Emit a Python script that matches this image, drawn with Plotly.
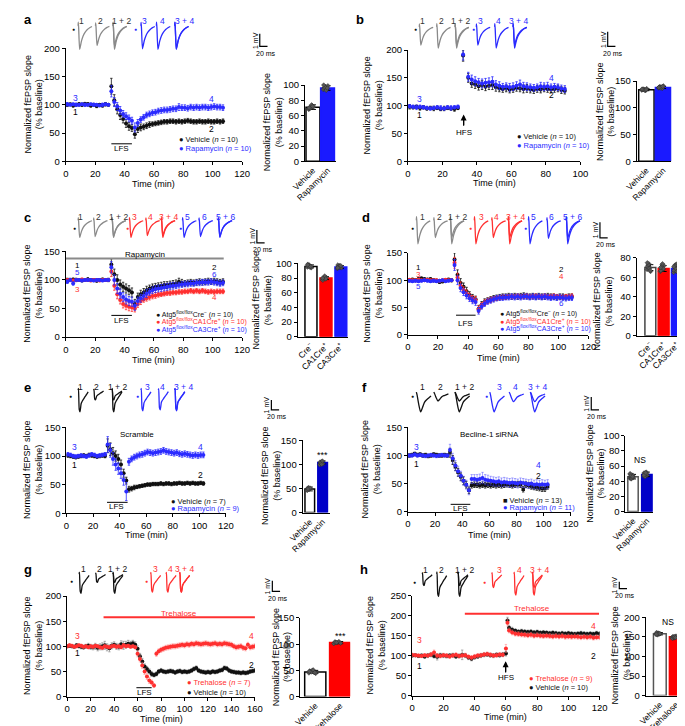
import plotly.graph_objects as go

W, H = 685, 726
FONT = "Liberation Sans, Arial, Helvetica, sans-serif"
BLACK = "#111111"; GRAY = "#8a8a8a"; DGRAY = "#333333"
BLUE = "#2b2bff"; RED = "#ff3030"; BARBLUE = "#1a1aff"; DBLUE = "#0000c8"; BARRED = "#ff0000"

# ---------------- time-course data ----------------
T_BASE = list(range(1, 30, 2))            # 1..29 min
T_POST39 = list(range(31, 108, 2))        # 31..107
T_POST40 = list(range(31, 110, 2))        # 31..109
T_POST37 = list(range(31, 104, 2))        # 31..103

# a
A_T = T_BASE + T_POST39
A_VEH = [100,101,99,100,101,100,102,101,99,100,98,100,99,101,100,
         133,108,92,82,75,67,62,59,48,57,60,61,63,65,66,67,68,69,70,70,71,71,70,71,70,71,72,71,70,70,71,70,70,71,70,70,71,70,71]
A_VEH_E = [3,2,3,2,3,3,2,3,3,2,3,2,3,3,2,
           14,10,8,8,7,7,7,6,7,6,6,5,5,5,4,4,4,4,4,4,4,4,4,4,4,4,4,4,4,4,4,4,4,4,4,4,4,4,4]
A_RAP = [101,100,101,100,100,101,100,100,101,100,100,99,100,101,100,
         124,105,97,90,84,80,76,72,60,68,74,78,82,84,86,87,89,90,91,91,92,93,93,96,95,95,94,96,95,96,95,96,96,95,96,97,96,96,95]
A_RAP_E = [3,2,2,3,2,2,3,2,2,3,2,2,3,2,2,
           10,8,7,7,6,6,6,6,8,6,5,5,5,5,5,5,5,5,5,5,5,5,5,6,5,5,5,5,5,5,5,5,5,5,5,5,5,5,5]

# b
B_T = T_BASE + [32] + list(range(35, 92, 2))
B_VEH = [98,97,98,96,97,95,96,95,96,94,95,96,95,94,96, 190,
         150,140,138,135,137,134,136,137,133,131,130,131,129,130,132,131,130,131,129,128,130,129,131,130,129,130,131,128,127]
B_VEH_E = [4,3,3,4,3,3,3,4,3,3,4,3,3,4,3, 10,
           8,7,7,7,8,7,7,8,7,6,6,6,6,6,6,6,7,7,6,6,6,6,6,6,6,6,6,6,6]
B_RAP = [99,98,97,98,97,96,95,96,97,96,95,97,96,97,98, 192,
         152,147,144,142,140,141,142,143,138,136,134,135,133,134,136,138,135,134,133,132,133,135,134,135,133,134,133,131,130]
B_RAP_E = [3,3,4,3,3,3,3,3,3,4,3,3,4,3,3, 10,
           8,8,8,7,8,8,8,9,7,7,6,6,7,7,7,8,7,7,6,6,6,7,7,7,6,6,6,6,6]

# c
C_T = T_BASE + T_POST39
C_CRE = [100,100,101,100,100,99,100,101,100,100,99,100,101,100,100,
         127,110,100,92,88,85,82,78,58,70,75,78,82,85,87,88,89,90,91,91,92,93,94,97,95,94,95,96,95,96,97,96,97,98,97,98,97,96,97]
C_CRE_E = [3,2,2,3,2,2,2,3,2,2,3,2,2,2,3,
           10,9,9,8,8,8,8,8,8,7,7,7,7,6,6,6,6,6,6,6,6,6,6,6,6,5,5,5,5,5,5,5,5,5,5,5,5,5,5]
C_CA1 = [100,100,99,100,100,101,100,100,99,100,100,99,100,100,100,
         115,90,75,65,58,55,53,52,50,58,63,66,68,70,72,73,74,75,76,77,77,78,78,79,79,80,80,81,80,81,80,81,80,79,80,79,80,80,80]
C_CA1_E = [2,2,2,2,2,2,2,2,2,2,2,2,2,2,2,
           9,8,8,7,7,7,7,7,6,6,6,5,5,5,5,5,4,4,4,4,4,4,4,4,4,4,4,4,4,4,4,4,4,4,4,4,4,4,4]
C_CA3 = [97,100,94,100,100,99,100,100,100,99,100,100,99,100,100,
         122,100,85,76,70,66,63,62,55,63,68,72,76,79,82,84,85,86,87,88,89,90,90,91,92,93,93,94,94,95,95,96,96,96,97,96,95,94,95]
C_CA3_E = [3,3,3,2,2,2,2,2,2,2,2,2,2,2,2,
           10,9,9,8,8,8,8,8,8,7,7,7,7,6,6,6,6,6,6,6,6,6,5,5,5,5,5,5,5,5,5,5,5,5,5,5,5,5,5]

# d
D_T = T_BASE + T_POST40
D_CRE = [100,101,100,102,103,102,101,102,100,99,97,98,100,101,100,
         138,110,95,88,80,73,68,65,48,55,60,63,65,67,68,69,70,70,71,70,71,70,71,72,71,70,71,70,71,70,70,71,70,70,69,70,70,69,70,70]
D_CRE_E = [3,3,3,3,3,3,3,3,3,3,3,3,3,3,3,
           12,9,8,7,7,6,6,6,6,6,6,5,5,5,5,5,5,5,5,5,5,5,5,5,5,5,5,5,5,5,5,5,5,5,5,5,5,5,5,5]
D_CA1 = [101,100,100,101,100,100,101,100,100,100,99,100,101,100,100,
         132,105,90,82,76,70,66,64,47,54,59,62,64,66,67,68,69,69,70,70,70,71,70,70,71,70,70,71,70,70,71,70,70,71,70,70,69,70,70,71]
D_CA1_E = [2,2,2,2,2,2,2,2,2,2,2,2,2,2,2,
           10,8,7,6,6,6,6,6,6,5,5,5,5,4,4,4,4,4,4,4,4,4,4,4,4,4,4,4,4,4,4,4,4,4,4,4,4,4,4,4]
D_CA3 = [99,98,99,98,99,100,99,98,99,98,99,100,98,99,100,
         128,100,86,78,72,67,63,60,44,52,57,61,63,65,67,68,68,69,69,70,69,70,69,70,70,69,70,69,70,69,70,69,68,69,68,69,68,67,68,68]
D_CA3_E = [2,2,2,2,2,2,2,2,2,2,2,2,2,2,2,
           10,8,7,6,6,6,6,6,6,5,5,5,5,5,5,5,5,5,5,5,5,5,5,5,5,5,5,5,5,5,5,5,5,5,5,5,5,5,5,5]

# e
E_T = T_BASE + T_POST37
E_VEH = [101,100,99,98,99,100,101,100,102,101,100,99,100,101,100,
         118,112,105,100,95,85,70,57,42,43,45,46,47,48,49,50,50,51,51,51,52,51,52,52,51,52,52,53,52,52,53,52,53,52,52,53,52]
E_VEH_E = [3,3,3,3,3,3,3,3,3,3,3,3,3,3,3,
           12,11,10,9,8,8,7,6,5,4,4,3,3,3,3,3,3,3,3,3,3,3,3,3,3,3,3,3,3,3,3,3,3,3,3,3,3]
E_RAP = [103,102,100,99,100,101,100,99,101,103,102,100,101,102,103,
         120,110,95,85,78,70,58,38,90,95,98,100,102,103,105,107,106,105,106,107,108,110,108,107,106,105,106,104,103,104,103,102,101,102,101,102,102]
E_RAP_E = [3,3,3,3,3,3,3,3,3,3,3,3,3,3,3,
           14,12,11,10,10,9,9,16,6,5,5,5,5,5,5,5,5,5,5,5,5,5,5,5,5,5,5,5,5,5,5,5,5,5,5,5,5]

# f
F_T = T_BASE + T_POST37
F_VEH = [100,101,103,101,102,100,101,99,100,102,101,100,100,101,100,
         105,92,80,70,62,55,48,38,47,48,48,47,48,47,48,47,48,47,48,47,48,49,48,47,48,49,48,40,48,47,45,44,43,42,41,41,45]
F_VEH_E = [3,3,3,3,3,3,3,3,3,3,3,3,3,3,3,
           8,8,7,7,7,7,6,6,5,5,5,5,5,5,5,5,5,5,5,5,5,5,5,5,5,5,5,5,5,5,5,5,5,5,5,5,5]
F_RAP = [100,100,102,100,101,100,99,100,101,100,99,100,101,100,100,
         110,95,82,72,64,55,48,38,58,58,57,58,60,57,56,55,54,53,54,52,53,52,51,52,51,50,52,51,50,49,50,48,49,48,49,48,49]
F_RAP_E = [3,3,3,3,3,3,3,3,3,3,3,3,3,3,3,
           10,9,9,9,8,8,8,8,8,8,9,9,10,9,9,8,8,8,8,8,8,8,8,8,8,8,8,8,8,8,8,8,8,8,8,8,8]

# g
G_T = list(range(0, 161, 2))
G_VEH = [100,101,100,99,102,100,99,98,100,101,99,98,100,97,99,100,102,98,96,101,103,100,99,104,102,103,105,104,106,103,
         95,80,70,60,55,50,45,43,45,50,52,50,49,50,51,50,48,50,51,49,50,49,50,52,55,57,52,50,49,48,
         49,48,50,49,50,52,53,57,56,52,50,49,48,48,47,48,47,48,50,51,52]
G_VEH_E = [3,3,3,3,3,3,4,4,4,5,5,5,6,6,6,7,8,7,7,6,6,6,6,7,8,7,7,6,6,6,
           6,6,6,5,5,5,5,4,4,4,4,4,4,4,4,4,4,4,4,4,4,4,4,4,4,4,4,4,4,4,
           4,4,4,4,4,4,4,4,4,4,4,4,4,4,4,4,4,4,4,4,4]
G_TRE = [100,102,101,99,100,102,101,99,100,98,100,99,101,100,98,97,100,99,98,100,101,99,100,98,102,100,101,99,100,98,
         85,75,62,50,40,32,28,22,85,90,93,95,97,98,99,100,100,101,102,103,102,104,103,105,104,106,105,104,105,106,
         105,104,105,106,104,105,104,106,105,104,103,100,98,99,100,97,96,103,98,99,100]
G_TRE_E = [3,3,3,3,3,3,3,3,3,3,3,3,3,3,3,3,3,3,3,3,3,3,3,3,3,3,3,3,3,3,
           6,6,6,6,6,6,5,4,5,5,5,5,5,5,5,5,5,5,5,5,5,5,5,5,5,5,5,5,5,5,
           5,5,5,5,5,5,5,5,5,5,5,5,5,5,5,5,5,5,5,5,5]

# h
H_T = list(range(0, 59, 2)) + [60, 61] + list(range(62, 121, 2))
H_VEH = [100,101,99,100,98,100,102,99,97,101,100,99,100,101,98,99,102,100,95,92,96,98,100,102,103,101,100,102,101,103,
         105,188,
         170,165,162,160,161,160,159,160,158,159,157,158,157,156,157,156,155,156,155,156,155,154,155,156,155,154,155,154,156,155]
H_VEH_E = [4,4,4,4,5,5,5,5,8,5,5,5,5,5,5,5,12,5,5,5,5,5,5,5,5,5,5,5,5,5,
           6,8,
           6,6,5,5,5,5,5,5,5,5,5,5,5,5,5,5,5,5,5,5,5,5,5,5,5,5,5,5,5,5]
H_TRE = [102,101,100,99,101,100,103,108,100,99,101,100,98,100,102,99,100,101,97,95,98,100,101,103,104,102,100,101,103,102,
         118,182,
         163,158,155,154,153,152,151,152,150,151,150,149,150,149,148,149,148,149,147,148,147,148,147,146,147,146,147,145,146,146]
H_TRE_E = [4,4,4,4,4,4,5,6,5,5,5,5,5,5,5,5,5,5,5,5,5,5,5,5,5,5,5,5,5,5,
           10,8,
           6,6,6,6,6,6,6,6,6,6,6,6,6,6,6,6,6,6,6,6,6,6,6,6,6,6,6,6,6,6]

# ---------------- bar data ----------------
BAR_A = dict(labels=["Vehicle", "Rapamycin"], means=[71, 96], sems=[3, 3],
             pts=[[68,70,72,73,71,69,70,74,72,70], [94,97,98,95,99,96,97,93,96,100]])
BAR_B = dict(labels=["Vehicle", "Rapamycin"], means=[134, 138], sems=[2, 2],
             pts=[[133,135,134,132,136,134,135,133,134,135], [137,140,139,136,141,138,137,139,140,138]])
BAR_C = dict(labels=["Cre<sup>−</sup>", "CA1Cre<sup>+</sup>", "CA3Cre<sup>+</sup>"], means=[96, 80, 95], sems=[2, 2, 2],
             pts=[[95,97,98,96,94,99,97,95,96,98], [78,80,82,79,81,77,80,83,79,80], [93,96,97,95,94,98,96,95,97,94]])
BAR_D = dict(labels=["Cre<sup>−</sup>", "CA1Cre<sup>+</sup>", "CA3Cre<sup>+</sup>"], means=[70, 69, 69], sems=[3, 3, 4],
             pts=[[68,72,74,70,66,71,73,69,67,75], [66,70,73,68,72,67,71,74,69,70], [65,70,73,68,74,67,72,69,66,71]])
BAR_E = dict(labels=["Vehicle", "Rapamycin"], means=[49, 104], sems=[4, 3],
             pts=[[47,50,52,48,51,46,49], [99,102,104,106,101,105,103,100,107]])
BAR_F = dict(labels=["Vehicle", "Rapamycin"], means=[46, 49], sems=[3, 3],
             pts=[[44,46,48,47,45,49,43,46,48,50,44,47,46], [47,50,49,52,48,51,46,49,50,48,51]])
BAR_G = dict(labels=["Vehicle", "Trehalose"], means=[47, 103], sems=[3, 2],
             pts=[[45,48,50,46,44,49,47,51,46,48], [101,104,103,105,102,104,103]])
BAR_H = dict(labels=["Vehicle", "Trehalose"], means=[158, 150], sems=[3, 4],
             pts=[[156,159,160,157,158,161,155,159,158,157], [148,151,147,150,152,146,149,150,148]])
JITTER = [-0.3, -0.22, -0.14, -0.06, 0.02, -0.26, -0.18, -0.1, -0.02, -0.28, -0.12, -0.2, -0.04]

# ---------------- example trace waveforms (ms, relative amplitude) ----------------
TPL = {
    "A": ([0, 0.5, 1.5, 4, 6, 9, 13, 18, 24, 30, 36], [0, 0.15, -0.1, -1.0, -0.86, -0.63, -0.43, -0.28, -0.16, -0.08, -0.03]),
    "E": ([0, 1, 3, 5, 8, 11, 14, 18, 22, 26], [0, 0.08, -0.9, -1.0, -0.62, -0.5, -0.42, -0.3, -0.2, -0.08]),
    "F": ([0, 2, 6, 11, 16, 21, 26, 32, 38], [0, -0.15, -0.6, -1.0, -0.78, -0.52, -0.4, -0.3, -0.2]),
}
PX_PER_MS = 0.4

fig = go.Figure()
layout = {}
annotations = []
shapes = []
counter = [0]

AX = dict(showline=True, linecolor="black", linewidth=1, ticks="outside", ticklen=3, tickwidth=1,
          tickcolor="black", showgrid=False, zeroline=False, fixedrange=True,
          tickfont=dict(family=FONT, size=9.5, color="black"))


def new_axes(x0, x1, y0, y1, xr, yr, xkw=None, ykw=None, visible=True):
    counter[0] += 1
    n = counter[0]
    s = "" if n == 1 else str(n)
    base = AX if visible else dict(visible=False, fixedrange=True, showgrid=False, zeroline=False)
    xa = dict(base, domain=[x0 / W, x1 / W], range=xr, anchor="y" + s)
    ya = dict(base, domain=[1 - y1 / H, 1 - y0 / H], range=yr, anchor="x" + s)
    if xkw: xa.update(xkw)
    if ykw: ya.update(ykw)
    layout["xaxis" + s] = xa
    layout["yaxis" + s] = ya
    return "x" + s, "y" + s


def ann_px(text, x, y, size=8.5, color="black", angle=0, xanchor="center", bold=False):
    annotations.append(dict(text=("<b>%s</b>" % text) if bold else text, x=x / W, y=1 - y / H,
                            xref="paper", yref="paper", showarrow=False, textangle=angle,
                            xanchor=xanchor, yanchor="middle",
                            font=dict(family=FONT, size=size, color=color)))


def ann_data(text, xa, ya, x, y, size=8, color="black"):
    annotations.append(dict(text=text, x=x, y=y, xref=xa, yref=ya, showarrow=False,
                            xanchor="center", yanchor="middle",
                            font=dict(family=FONT, size=size, color=color)))


def series(xa, ya, t, v, e, color, ecolor=None, symbol="circle", size=4):
    fig.add_trace(go.Scatter(x=t, y=v, mode="markers", xaxis=xa, yaxis=ya, showlegend=False,
                             marker=dict(color=color, size=size, symbol=symbol),
                             error_y=dict(type="data", array=e, color=ecolor or color, thickness=0.8, width=1.2)))


def line_panel(box, xr, yr, dxt, dyt, title_x, xtitle_y):
    x0, x1, y0, y1 = box
    xa, ya = new_axes(x0, x1, y0, y1, xr, yr, xkw=dict(dtick=dxt, tick0=0), ykw=dict(dtick=dyt, tick0=0))
    ann_px("Normalized fEPSP slope<br>(% baseline)", title_x, (y0 + y1) / 2, size=9, angle=-90)
    ann_px("Time (min)", (x0 + x1) / 2, xtitle_y, size=9)
    return xa, ya


def bar_panel(box, xr, bw, yr, dyt, data, fills, outlines, title_x, title_y):
    x0, x1, y0, y1 = box
    n = len(data["means"])
    xa, ya = new_axes(x0, x1, y0, y1, xr, yr,
                      xkw=dict(tickvals=list(range(n)), ticktext=data["labels"], tickangle=-45, ticks="",
                               tickfont=dict(family=FONT, size=8.5, color="black")),
                      ykw=dict(dtick=dyt, tick0=0))
    fig.add_trace(go.Bar(x=list(range(n)), y=data["means"], width=bw, xaxis=xa, yaxis=ya, showlegend=False,
                         marker=dict(color=fills, line=dict(color=outlines, width=1.5)),
                         error_y=dict(type="data", array=data["sems"], color="black", thickness=1, width=3)))
    for i, pts in enumerate(data["pts"]):
        fig.add_trace(go.Scatter(x=[i + j * bw for j in JITTER[:len(pts)]], y=pts, mode="markers", xaxis=xa, yaxis=ya,
                                 showlegend=False, cliponaxis=False,
                                 marker=dict(symbol="diamond", size=3.5, color="#555555",
                                             line=dict(width=0.4, color="#222222"))))
    ann_px("Normalized fEPSP slope<br>(% baseline)", title_x, title_y, size=9, angle=-90)
    return xa, ya


def insets(x0, x1, base_y, pxmv, tpl, starts, slots, labels, label_y, dots, sb):
    xa, ya = new_axes(x0, x1, base_y - 8, base_y + 42, [x0 / PX_PER_MS, x1 / PX_PER_MS],
                      [-42 / pxmv, 8 / pxmv], visible=False)
    tt, tv = TPL[tpl]
    for s, slot in zip(starts, slots):
        for amp, col in slot:
            fig.add_trace(go.Scatter(x=[s / PX_PER_MS + t for t in tt], y=[amp * v for v in tv], mode="lines",
                                     line=dict(color=col, width=1.3, shape="spline", smoothing=0.6),
                                     xaxis=xa, yaxis=ya, showlegend=False))
    # scale bar 1 mV / 20 ms
    sbx, sby = sb
    top = -(sby - base_y) / pxmv
    fig.add_trace(go.Scatter(x=[sbx / PX_PER_MS, sbx / PX_PER_MS, sbx / PX_PER_MS + 20],
                             y=[top, top - 1, top - 1], mode="lines", line=dict(color="black", width=1.2),
                             xaxis=xa, yaxis=ya, showlegend=False))
    ann_px("1 mV", sbx - 5, sby + pxmv / 2, size=7, angle=-90)
    ann_px("20 ms", sbx + 6, sby + pxmv + 7, size=7)
    for text, x, col in labels:
        ann_px(text, x, label_y, size=8.5, color=col)
    for x, y, col in dots:
        ann_px("●", x, y, size=5, color=col)


def legend(items, x, ys, size=7.5):
    for (text, col, sym), y in zip(items, ys):
        ann_px("%s %s" % (sym, text), x, y, size=size, color=col, xanchor="left")


def hline(xa, ya, xs, y, color="black", width=1):
    shapes.append(dict(type="line", xref=xa, yref=ya, x0=xs[0], x1=xs[1], y0=y, y1=y,
                       line=dict(color=color, width=width)))


def arrow(xa, ya, x, y_tip, y_tail):
    # shaft + head drawn in data coordinates
    shapes.append(dict(type="line", xref=xa, yref=ya, x0=x, x1=x, y0=y_tail, y1=y_tip - 4,
                       line=dict(color="black", width=1.2)))
    annotations.append(dict(x=x, y=y_tip, ax=0, ay=12, xref=xa, yref=ya, text="",
                            showarrow=True, arrowhead=2, arrowsize=1, arrowwidth=1.2, arrowcolor="black"))


# ================= panel a =================
xa, ya = line_panel((44.3, 226.7, 35, 150), [0, 120], [0, 200], 20, 50, 11, 173)
series(xa, ya, A_T, A_VEH, A_VEH_E, BLACK)
series(xa, ya, A_T, A_RAP, A_RAP_E, BLUE)
hline(xa, ya, [31, 45], 31)
ann_data("LFS", xa, ya, 38, 22)
ann_data("3", xa, ya, 6.5, 112, 8.5, BLUE); ann_data("1", xa, ya, 6.5, 88, 8.5)
ann_data("4", xa, ya, 99, 110, 8.5, BLUE); ann_data("2", xa, ya, 99, 57, 8.5)
legend([("Vehicle (<i>n</i> = 10)", BLACK, "●"), ("Rapamycin (<i>n</i> = 10)", BLUE, "●")], 159, [128, 137])
xa, ya = bar_panel((291.7, 323.5, 72.3, 150), [-0.55, 1.55], 0.95, [0, 100], 20, BAR_A,
                   ["white", BARBLUE], ["black", BARBLUE], 259, 110)
ann_data("***", xa, ya, 1, 106, 9)
insets(0, 342, 12, 13, "A", [57, 75, 93, 122, 138, 157],
       [[(1.85, GRAY)], [(1.55, GRAY)], [(1.85, GRAY), (1.55, GRAY)], [(1.8, BLUE)], [(1.85, BLUE)], [(1.8, BLUE), (1.85, BLUE)]],
       [("1", 61, DGRAY), ("2", 80, DGRAY), ("1 + 2", 102, DGRAY), ("3", 126, BLUE), ("4", 144, BLUE), ("3 + 4", 167, BLUE)],
       7, [(52, 15, BLACK), (116, 15, BLUE)], (245, 20))
ann_px("a", 5, 6, size=13, bold=True)

# ================= panel b =================
xa, ya = line_panel((398.3, 576.7, 36.7, 150), [0, 100], [0, 200], 20, 50, 362, 172)
series(xa, ya, B_T, B_VEH, B_VEH_E, BLACK)
series(xa, ya, B_T, B_RAP, B_RAP_E, BLUE)
arrow(xa, ya, 32.3, 84, 64)
ann_data("HFS", xa, ya, 32.3, 52)
ann_data("3", xa, ya, 7, 112, 8.5, BLUE); ann_data("1", xa, ya, 7, 84, 8.5)
ann_data("4", xa, ya, 83.5, 150, 8.5, BLUE); ann_data("2", xa, ya, 83.5, 119, 8.5)
legend([("Vehicle (<i>n</i> = 10)", BLACK, "●"), ("Rapamycin (<i>n</i> = 10)", BLUE, "●")], 509, [124.5, 133.5])
xa, ya = bar_panel((635, 671, 68.3, 150), [-0.58, 1.5], 0.92, [0, 150], 50, BAR_B,
                   ["white", BARBLUE], ["black", BARBLUE], 603, 100)
ann_data("NS", xa, ya, 0.5, 163, 8.5)
insets(342, 685, 13, 15, "A", [410, 428, 447, 469, 488, 507],
       [[(1.25, GRAY)], [(1.45, GRAY)], [(1.25, GRAY), (1.45, GRAY)], [(1.25, BLUE)], [(1.45, BLUE)], [(1.25, BLUE), (1.45, BLUE)]],
       [("1", 413, DGRAY), ("2", 433, DGRAY), ("1 + 2", 453, DGRAY), ("3", 473, BLUE), ("4", 492, BLUE), ("3 + 4", 513, BLUE)],
       7, [(406, 15, BLACK), (466, 15, BLUE)], (605, 18))
ann_px("b", 349, 6, size=13, bold=True)

# ================= panel c =================
xa, ya = line_panel((44.3, 226.7, 241.7, 329), [0, 120], [0, 150], 20, 50, 11, 352)
series(xa, ya, C_T, C_CRE, C_CRE_E, BLACK)
series(xa, ya, C_T, C_CA1, C_CA1_E, RED)
series(xa, ya, C_T, C_CA3, C_CA3_E, BLUE)
hline(xa, ya, [0, 107.5], 137.5, GRAY, 2)
ann_data("Rapamycin", xa, ya, 54, 145)
hline(xa, ya, [31, 45], 38)
ann_data("LFS", xa, ya, 38, 29)
ann_data("1", xa, ya, 8, 125); ann_data("5", xa, ya, 8, 113, 8, BLUE); ann_data("3", xa, ya, 8, 83, 8, RED)
ann_data("2", xa, ya, 101, 122); ann_data("6", xa, ya, 101, 110, 8, BLUE); ann_data("4", xa, ya, 101, 70, 8, RED)
legend([("Atg5<sup>flox/flox</sup>Cre<sup>−</sup> (<i>n</i> = 10)", BLACK, "●"),
        ("Atg5<sup>flox/flox</sup>CA1Cre<sup>+</sup> (<i>n</i> = 10)", RED, "●"),
        ("Atg5<sup>flox/flox</sup>CA3Cre<sup>+</sup> (<i>n</i> = 10)", BLUE, "●")], 136, [306, 313.5, 321], 7)
xa, ya = bar_panel((284.3, 336, 254, 328.7), [-0.88, 2.45], 0.8, [0, 100], 20, BAR_C,
                   ["white", BARRED, BARBLUE], ["black", BARRED, BARBLUE], 247, 292)
for a, b in [(0, 1), (1, 2)]:
    shapes.append(dict(type="path", xref=xa, yref=ya, path="M %s,105 L %s,109 L %s,109 L %s,105" % (a, a, b, b),
                       line=dict(color="black", width=1)))
    ann_data("***", xa, ya, (a + b) / 2, 113, 8.5)
insets(0, 342, 210, 13, "A", [57, 73, 92, 110, 127, 143, 165, 182, 202],
       [[(1.35, GRAY)], [(1.28, GRAY)], [(1.35, GRAY), (1.28, GRAY)],
        [(1.35, RED)], [(1.2, RED)], [(1.35, RED), (1.2, RED)],
        [(1.35, BLUE)], [(1.28, BLUE)], [(1.35, BLUE), (1.28, BLUE)]],
       [("1", 60, DGRAY), ("2", 78, DGRAY), ("1 + 2", 99, DGRAY), ("3", 115, RED), ("4", 132, RED), ("3 + 4", 151, RED),
        ("5", 170, BLUE), ("6", 188, BLUE), ("5 + 6", 210, BLUE)],
       207, [(53, 218, BLACK), (108, 218, RED), (163, 218, BLUE)], (242, 220))
ann_px("c", 5, 207, size=13, bold=True)

# ================= panel d =================
xa, ya = line_panel((398.3, 585, 243.3, 326.7), [0, 120], [0, 150], 20, 50, 362, 350)
series(xa, ya, D_T, D_CRE, D_CRE_E, BLACK)
series(xa, ya, D_T, D_CA1, D_CA1_E, RED)
series(xa, ya, D_T, D_CA3, D_CA3_E, BLUE)
hline(xa, ya, [32, 45], 36)
ann_data("LFS", xa, ya, 38.5, 21)
ann_data("1", xa, ya, 7, 124); ann_data("3", xa, ya, 7, 111, 8, RED); ann_data("5", xa, ya, 7, 88, 8, BLUE)
ann_data("2", xa, ya, 102, 120); ann_data("4", xa, ya, 102, 106, 8, RED); ann_data("6", xa, ya, 102, 58, 8, BLUE)
legend([("Atg5<sup>flox/flox</sup>Cre<sup>−</sup> (<i>n</i> = 10)", BLACK, "●"),
        ("Atg5<sup>flox/flox</sup>CA1Cre<sup>+</sup> (<i>n</i> = 10)", RED, "●"),
        ("Atg5<sup>flox/flox</sup>CA3Cre<sup>+</sup> (<i>n</i> = 10)", BLUE, "●")], 492, [305, 312.7, 320], 7)
xa, ya = bar_panel((635, 683.5, 248.3, 327.7), [-1.03, 2.5], 0.82, [0, 80], 20, BAR_D,
                   ["white", BARRED, BARBLUE], ["#444444", BARRED, BARBLUE], 600, 293)
ann_data("NS", xa, ya, 1, 87, 8.5)
insets(342, 685, 210, 16, "A", [407, 425, 442, 467, 485, 502, 523, 542, 562],
       [[(1.5, GRAY)], [(1.1, GRAY)], [(1.5, GRAY), (1.1, GRAY)],
        [(1.5, RED)], [(1.1, RED)], [(1.5, RED), (1.1, RED)],
        [(1.5, BLUE)], [(1.15, BLUE)], [(1.5, BLUE), (1.15, BLUE)]],
       [("1", 413, DGRAY), ("2", 431, DGRAY), ("1 + 2", 450, DGRAY), ("3", 474, RED), ("4", 490, RED), ("3 + 4", 510, RED),
        ("5", 528, BLUE), ("6", 547, BLUE), ("5 + 6", 569, BLUE)],
       207, [(403, 218, BLACK), (463, 218, RED), (520, 218, BLUE)], (597, 212))
ann_px("d", 355, 207, size=13, bold=True)

# ================= panel e =================
xa, ya = line_panel((45, 210, 421, 508.3), [0, 120], [0, 150], 20, 50, 11, 530)
series(xa, ya, E_T, E_VEH, E_VEH_E, BLACK)
series(xa, ya, E_T, E_RAP, E_RAP_E, BLUE)
hline(xa, ya, [30.5, 46], 19)
ann_data("LFS", xa, ya, 38, 11)
ann_data("Scramble", xa, ya, 53, 138)
ann_data("3", xa, ya, 6, 116, 8.5, BLUE); ann_data("1", xa, ya, 6, 85, 8.5)
ann_data("4", xa, ya, 100.5, 116, 8.5, BLUE); ann_data("2", xa, ya, 100.5, 66, 8.5)
legend([("Vehicle (<i>n</i> = 7)", BLACK, "●"), ("Rapamycin (<i>n</i> = 9)", BLUE, "●")], 151, [496, 504])
xa, ya = bar_panel((289.3, 318, 434, 507.7), [-0.56, 1.6], 0.75, [0, 150], 50, BAR_E,
                   ["white", DBLUE], ["black", DBLUE], 256, 470)
ann_data("***", xa, ya, 1, 120, 9)
insets(0, 342, 383, 10, "E", [57, 73, 92, 122, 140, 157],
       [[(2.2, BLACK)], [(1.0, BLACK)], [(2.2, BLACK), (1.0, BLACK)], [(2.1, BLUE)], [(2.0, BLUE)], [(2.1, BLUE), (2.0, BLUE)]],
       [("1", 60, BLACK), ("2", 76, BLACK), ("1 + 2", 98, BLACK), ("3", 129, BLUE), ("4", 144, BLUE), ("3 + 4", 166, BLUE)],
       380, [(49, 389, BLACK), (118, 389, BLUE)], (257, 393))
ann_px("e", 5, 380, size=13, bold=True)

# ================= panel f =================
xa, ya = line_panel((398.3, 566.7, 421, 506.7), [0, 120], [0, 150], 20, 50, 360, 530)
series(xa, ya, F_T, F_VEH, F_VEH_E, BLACK, symbol="square", size=3.5)
series(xa, ya, F_T, F_RAP, F_RAP_E, BLUE, ecolor="rgba(60,60,255,0.55)")
hline(xa, ya, [31.5, 46], 13)
ann_data("LFS", xa, ya, 38.5, 5)
ann_data("Becline-1 siRNA", xa, ya, 60, 137)
ann_data("3", xa, ya, 6, 115, 8.5, BLUE); ann_data("1", xa, ya, 6, 85, 8.5)
ann_data("4", xa, ya, 96.5, 83, 8.5, BLUE); ann_data("2", xa, ya, 96.5, 64, 8.5)
legend([("Vehicle (<i>n</i> = 13)", BLACK, "■"), ("Rapamycin (<i>n</i> = 11)", BLUE, "●")], 495, [495, 502.7])
xa, ya = bar_panel((623.3, 652, 429.3, 506.7), [-0.55, 1.45], 0.75, [0, 100], 20, BAR_F,
                   ["white", DBLUE], ["#555555", DBLUE], 592, 468)
ann_data("NS", xa, ya, 0.5, 68, 8.5)
insets(342, 685, 385, 13, "F", [407, 425, 447, 483, 503, 525],
       [[(1.55, BLACK)], [(0.7, BLACK)], [(1.55, BLACK), (0.7, BLACK)], [(1.55, BLUE)], [(0.75, BLUE)], [(1.55, BLUE), (0.75, BLUE)]],
       [("1", 413, BLACK), ("2", 432, BLACK), ("1 + 2", 457, BLACK), ("3", 493, BLUE), ("4", 510, BLUE), ("3 + 4", 532, BLUE)],
       380, [(403, 389, BLACK), (480, 389, BLUE)], (588, 390))
ann_px("f", 353, 380, size=13, bold=True)

# ================= panel g =================
xa, ya = line_panel((45.7, 240, 592.7, 695), [0, 160], [0, 200], 20, 50, 11, 718)
series(xa, ya, G_T, G_VEH, G_VEH_E, BLACK, ecolor="rgba(120,120,120,0.7)")
series(xa, ya, G_T, G_TRE, G_TRE_E, RED, ecolor="rgba(255,120,120,0.6)")
hline(xa, ya, [31, 160], 158, RED, 2)
ann_data("Trehalose", xa, ya, 95, 166, 8, RED)
hline(xa, ya, [59, 72], 17.6)
ann_data("LFS", xa, ya, 66, 9)
ann_data("3", xa, ya, 9, 120, 8.5, RED); ann_data("1", xa, ya, 9, 87, 8.5)
ann_data("4", xa, ya, 157, 120, 8.5, RED); ann_data("2", xa, ya, 157, 62, 8.5)
legend([("Trehalose (<i>n</i> = 7)", RED, "●"), ("Vehicle (<i>n</i> = 10)", BLACK, "●")], 168, [681, 690.7])
xa, ya = bar_panel((286.7, 338.5, 615, 695), [-0.61, 1.4], 0.85, [0, 150], 50, BAR_G,
                   ["white", BARRED], ["black", BARRED], 268, 655)
ann_data("***", xa, ya, 1, 116, 9)
insets(0, 342, 570, 11, "E", [58, 75, 93, 132, 148, 162],
       [[(1.8, BLACK)], [(0.8, BLACK)], [(1.8, BLACK), (0.8, BLACK)], [(1.7, RED)], [(1.7, RED)], [(1.7, RED), (1.7, RED)]],
       [("1", 63, BLACK), ("2", 79, BLACK), ("1 + 2", 98, BLACK), ("3", 137, RED), ("4", 153, RED), ("3 + 4", 167, RED)],
       565, [(50, 577, BLACK), (128, 577, RED)], (258, 577))
ann_px("g", 5, 566, size=13, bold=True)

# ================= panel h =================
xa, ya = line_panel((402.7, 596.7, 592.3, 694), [0, 120], [0, 250], 20, 50, 365, 716)
series(xa, ya, H_T, H_VEH, H_VEH_E, BLACK, ecolor="rgba(120,120,120,0.7)")
series(xa, ya, H_T, H_TRE, H_TRE_E, RED, ecolor="rgba(255,120,120,0.6)")
hline(xa, ya, [33.7, 119.6], 205, RED, 2)
ann_data("Trehalose", xa, ya, 77, 217, 8, RED)
arrow(xa, ya, 59.8, 86, 58)
ann_data("HFS", xa, ya, 59.8, 44)
ann_data("3", xa, ya, 4.6, 139, 8.5, RED); ann_data("1", xa, ya, 4.6, 74, 8.5)
ann_data("4", xa, ya, 116, 174, 8.5, RED); ann_data("2", xa, ya, 116, 100, 8.5)
legend([("Trehalose (<i>n</i> = 9)", RED, "●"), ("Vehicle (<i>n</i> = 10)", BLACK, "●")], 522, [677, 686])
xa, ya = bar_panel((644.3, 685, 614.3, 694), [-0.89, 1.58], 0.8, [0, 200], 50, BAR_H,
                   ["white", BARRED], ["#555555", BARRED], 619, 653)
ann_data("NS", xa, ya, 0.5, 188, 8.5)
insets(342, 685, 570, 7, "E", [413, 428, 450, 485, 508, 527],
       [[(1.7, BLACK)], [(3.3, BLACK)], [(1.7, BLACK), (3.3, BLACK)], [(2.0, RED)], [(3.1, RED)], [(2.0, RED), (3.1, RED)]],
       [("1", 417, BLACK), ("2", 433, BLACK), ("1 + 2", 457, BLACK), ("3", 493, RED), ("4", 514, RED), ("3 + 4", 534, RED)],
       566, [(405, 578, BLACK), (478, 578, RED)], (617, 578))
ann_px("h", 353, 566, size=13, bold=True)

fig.update_layout(layout)
fig.update_layout(width=W, height=H, margin=dict(l=0, r=0, t=0, b=0), paper_bgcolor="white",
                  plot_bgcolor="rgba(0,0,0,0)", showlegend=False, annotations=annotations, shapes=shapes,
                  bargap=0.05, font=dict(family=FONT, size=9, color="black"))
fig.write_html("out.html")
